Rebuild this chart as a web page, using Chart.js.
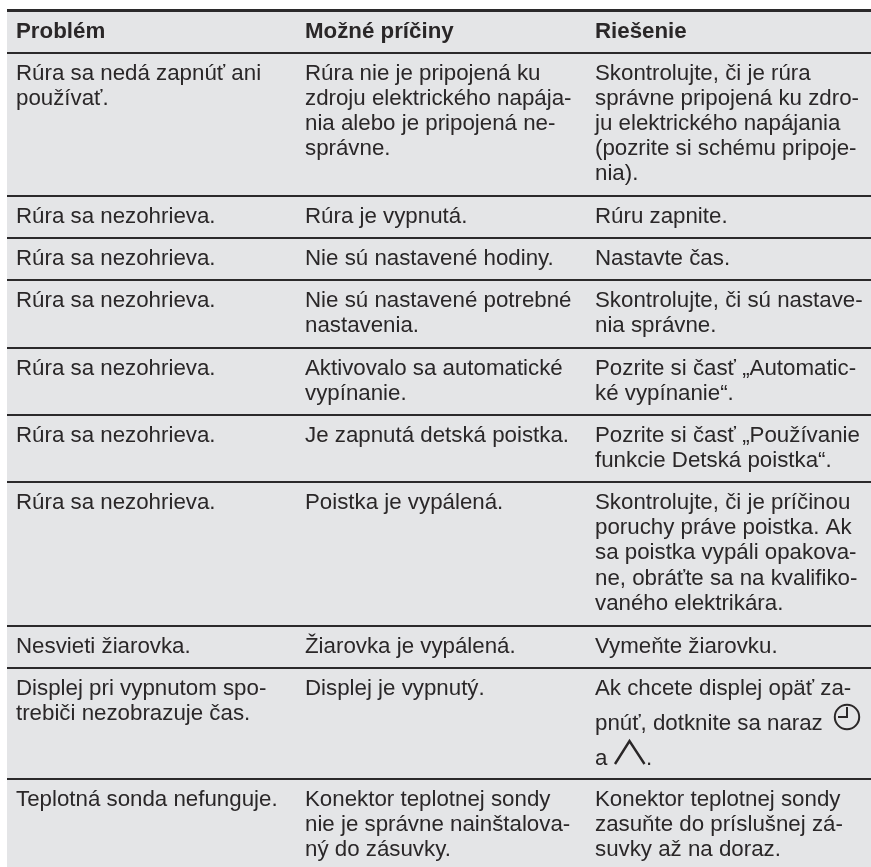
<!DOCTYPE html>
<html><head><meta charset="utf-8">
<style>html,body{margin:0;padding:0;background:#fff}#w{width:871px;height:867px}</style>
<script src="https://cdn.jsdelivr.net/npm/chart.js@4/dist/chart.umd.min.js"></script>
</head><body><div id="w"><canvas id="c"></canvas></div>
<script>
const headers = ["Problém", "Možné príčiny", "Riešenie"];
const problems = [
 ["Rúra sa nedá zapnúť ani","používať."],
 ["Rúra sa nezohrieva."],["Rúra sa nezohrieva."],["Rúra sa nezohrieva."],["Rúra sa nezohrieva."],["Rúra sa nezohrieva."],["Rúra sa nezohrieva."],
 ["Nesvieti žiarovka."],
 ["Displej pri vypnutom spo-","trebiči nezobrazuje čas."],
 ["Teplotná sonda nefunguje."]];
const causes = [
 ["Rúra nie je pripojená ku","zdroju elektrického napája-","nia alebo je pripojená ne-","správne."],
 ["Rúra je vypnutá."],["Nie sú nastavené hodiny."],["Nie sú nastavené potrebné","nastavenia."],["Aktivovalo sa automatické","vypínanie."],["Je zapnutá detská poistka."],["Poistka je vypálená."],
 ["Žiarovka je vypálená."],["Displej je vypnutý."],
 ["Konektor teplotnej sondy","nie je správne nainštalova-","ný do zásuvky."]];
const solutions = [
 ["Skontrolujte, či je rúra","správne pripojená ku zdro-","ju elektrického napájania","(pozrite si schému pripoje-","nia)."],
 ["Rúru zapnite."],["Nastavte čas."],["Skontrolujte, či sú nastave-","nia správne."],["Pozrite si časť „Automatic-","ké vypínanie“."],["Pozrite si časť „Používanie","funkcie Detská poistka“."],
 ["Skontrolujte, či je príčinou","poruchy práve poistka. Ak","sa poistka vypáli opakova-","ne, obráťte sa na kvalifiko-","vaného elektrikára."],
 ["Vymeňte žiarovku."],
 ["Ak chcete displej opäť za-","pnúť, dotknite sa naraz","a"],
 ["Konektor teplotnej sondy","zasuňte do príslušnej zá-","suvky až na doraz."]];
const ruleValues = [10,52.5,196,238,280,348,415,482,626,668,779];
const X0=7,Y0=9,W=871,H=867;
const colX=[16,305,595], LH=25.2, FS=22.3, INK="#2a2728", ICONROW=8;
function text(ctx,s,x,y,bold){ctx.font=(bold?"bold ":"")+FS+"px 'Liberation Sans'";ctx.fillStyle=INK;ctx.textBaseline="alphabetic";ctx.fillText(s,x,y);}
const tablePlugin={id:"t",
 beforeDraw(ch){const a=ch.chartArea,c=ch.ctx;c.save();c.fillStyle="#e4e5e7";c.fillRect(a.left,a.top,a.right-a.left,a.bottom-a.top);c.restore();},
 afterDraw(ch){const c=ch.ctx,sx=ch.scales.x,sy=ch.scales.y,px=v=>sx.getPixelForValue(v),py=v=>sy.getPixelForValue(v);c.save();
  headers.forEach((h,i)=>text(c,h,px(colX[i]),py(38),true));
  [problems,causes,solutions].forEach((col,ci)=>col.forEach((lines,r)=>{const top=ruleValues[r+1];
    const lh=(ci===2&&r===ICONROW)?35:LH;
    lines.forEach((l,k)=>text(c,l,px(colX[ci]),py(top+27+k*lh),false));}));
  text(c,".",px(646),py(765),false);
  c.strokeStyle=INK;c.lineWidth=2;c.lineJoin="miter";
  c.beginPath();c.arc(px(847),py(717),12.2,0,Math.PI*2);c.stroke();
  c.beginPath();c.moveTo(px(847),py(707));c.lineTo(px(847),py(717));c.lineTo(px(838),py(717));c.stroke();
  c.lineWidth=2.4;c.beginPath();c.moveTo(px(615),py(764));c.lineTo(px(629.5),py(741));c.lineTo(px(644.5),py(764));c.stroke();
  c.restore();}};
new Chart(document.getElementById("c"),{type:"scatter",data:{datasets:[{data:[],pointRadius:0}]},
 plugins:[tablePlugin],
 options:{responsive:true,maintainAspectRatio:false,animation:false,
  layout:{padding:{left:X0,top:Y0}},
  plugins:{legend:{display:false},tooltip:{enabled:false}},
  scales:{
   x:{type:"linear",min:X0,max:W,display:false},
   y:{type:"linear",reverse:true,min:Y0,max:H,
      afterBuildTicks(s){s.ticks=ruleValues.map(v=>({value:v}));},
      ticks:{display:false},border:{display:false},
      grid:{color:"#2b2a2b",lineWidth:c=>c.index===0?3:2,drawTicks:false}}}}});
</script></body></html>
